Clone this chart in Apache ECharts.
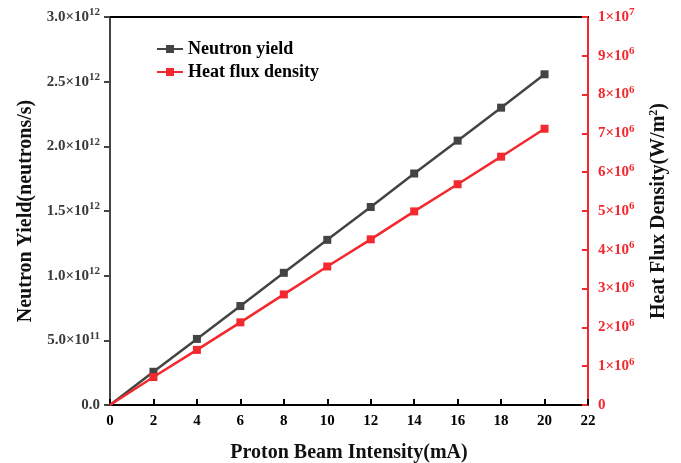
<!DOCTYPE html>
<html>
<head>
    <meta charset="utf-8" />
    <title>Neutron yield vs heat flux</title>
    <script src="https://cdn.jsdelivr.net/npm/echarts@6/dist/echarts.min.js"></script>
    <style>
        html, body { margin: 0; padding: 0; background: #fff; }
        #main { width: 681px; height: 463px; }
    </style>
</head>
<body>
    <div id="main"></div>
    <script type="text/javascript">
        // proton beam current (mA)
        var current = [0, 2, 4, 6, 8, 10, 12, 14, 16, 18, 20];
        // neutrons/s
        var neutronYield = [0, 0.257e12, 0.511e12, 0.765e12, 1.022e12, 1.277e12, 1.531e12, 1.790e12, 2.044e12, 2.299e12, 2.557e12];
        // W/m^2
        var heatFlux = [0, 0.72e6, 1.42e6, 2.13e6, 2.85e6, 3.57e6, 4.27e6, 4.99e6, 5.69e6, 6.40e6, 7.12e6];

        var FONT = '"Liberation Serif", "Times New Roman", serif';
        var RED = '#f2292e';
        var GREY = '#444444';

        const toPoints = (ys) => current.map((x, i) => {
            // no marker drawn at the origin
            if (x === 0) return { value: [x, ys[i]], symbolSize: 0 };
            return [x, ys[i]];
        });

        const supRich = (color) => ({
            b: { fontFamily: FONT, fontWeight: 'bold', fontSize: 15, color: color },
            sup: { fontFamily: FONT, fontWeight: 'bold', fontSize: 11, color: color, verticalAlign: 'bottom', padding: [0, 0, 9, 0] }
        });

        var chart = echarts.init(document.getElementById('main'));

        var option = {
            animation: false,
            grid: { left: 110, right: 93, top: 17, bottom: 58, outerBoundsMode: 'none', containLabel: false },
            legend: {
                orient: 'vertical',
                left: 151,
                top: 35,
                itemGap: 5,
                itemWidth: 26,
                itemHeight: 10,
                data: ['Neutron yield', 'Heat flux density'],
                textStyle: { fontFamily: FONT, fontWeight: 'bold', fontSize: 18, color: '#000' }
            },
            xAxis: [{
                type: 'value',
                min: 0, max: 22, interval: 2,
                name: 'Proton Beam Intensity(mA)',
                nameLocation: 'middle',
                nameGap: 38,
                nameTextStyle: { fontFamily: FONT, fontWeight: 'bold', fontSize: 20, color: '#111' },
                axisLine: { onZero: false, lineStyle: { color: '#000', width: 2 } },
                axisTick: { inside: true, length: 6, lineStyle: { color: '#000', width: 2 } },
                axisLabel: { fontFamily: FONT, fontWeight: 'bold', fontSize: 15, color: '#000', margin: 9 },
                splitLine: { show: false }
            }, {
                // top frame line
                type: 'value',
                position: 'top',
                min: 0, max: 22,
                axisLine: { show: true, onZero: false, lineStyle: { color: '#000', width: 2 } },
                axisTick: { show: false },
                axisLabel: { show: false },
                splitLine: { show: false }
            }],
            yAxis: [{
                type: 'value',
                position: 'left',
                min: 0, max: 3e12, interval: 0.5e12,
                name: 'Neutron Yield(neutrons/s)',
                nameLocation: 'middle',
                nameRotate: 90,
                nameGap: 74,
                nameTextStyle: { fontFamily: FONT, fontWeight: 'bold', fontSize: 20, color: '#111' },
                axisLine: { show: true, onZero: false, lineStyle: { color: GREY, width: 2 } },
                axisTick: { show: true, inside: false, length: 6, lineStyle: { color: GREY, width: 2 } },
                axisLabel: {
                    margin: 10,
                    formatter: (v) => {
                        if (v === 0) return '{b|0.0}';
                        if (v < 1e12) return '{b|' + (v / 1e11).toFixed(1) + '×10}{sup|11}';
                        return '{b|' + (v / 1e12).toFixed(1) + '×10}{sup|12}';
                    },
                    rich: supRich('#3a3a3a')
                },
                splitLine: { show: false }
            }, {
                type: 'value',
                position: 'right',
                min: 0, max: 1e7, interval: 1e6,
                name: 'Heat Flux Density(W/m{s|2})',
                nameLocation: 'middle',
                nameRotate: 90,
                nameGap: 60,
                nameTextStyle: {
                    fontFamily: FONT, fontWeight: 'bold', fontSize: 20, color: '#111',
                    rich: {
                        s: { fontFamily: FONT, fontWeight: 'bold', fontSize: 12, color: '#111', verticalAlign: 'bottom', padding: [0, 0, 10, 0] }
                    }
                },
                axisLine: { show: true, onZero: false, lineStyle: { color: RED, width: 2 } },
                axisTick: { show: true, inside: true, length: 6, lineStyle: { color: RED, width: 2 } },
                axisLabel: {
                    margin: 10,
                    formatter: (v) => {
                        if (v === 0) return '{b|0}';
                        var n = Math.round(v / 1e6);
                        if (n === 10) return '{b|1×10}{sup|7}';
                        return '{b|' + n + '×10}{sup|6}';
                    },
                    rich: supRich(RED)
                },
                splitLine: { show: false }
            }],
            series: [{
                name: 'Neutron yield',
                type: 'line',
                xAxisIndex: 0,
                yAxisIndex: 0,
                symbol: 'rect',
                symbolSize: 8,
                color: GREY,
                lineStyle: { width: 2.5, color: GREY },
                data: toPoints(neutronYield)
            }, {
                name: 'Heat flux density',
                type: 'line',
                xAxisIndex: 0,
                yAxisIndex: 1,
                symbol: 'rect',
                symbolSize: 8,
                color: RED,
                lineStyle: { width: 2.5, color: RED },
                data: toPoints(heatFlux)
            }]
        };

        chart.setOption(option);
    </script>
</body>
</html>
